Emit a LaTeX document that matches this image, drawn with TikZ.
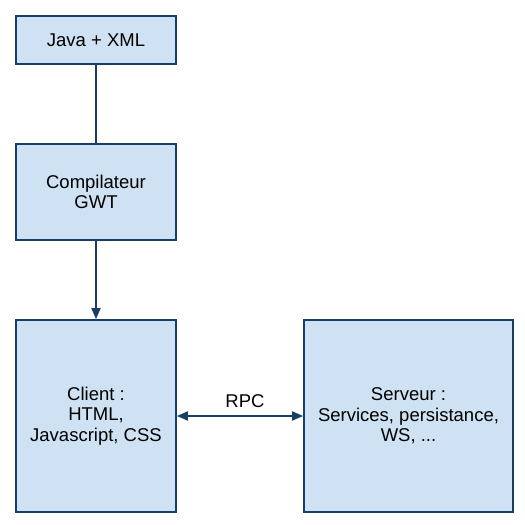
\documentclass[tikz,border=0pt]{standalone}
\usepackage{fontspec}
\setmainfont{Liberation Sans}
\usetikzlibrary{arrows.meta, positioning}
\definecolor{boxfill}{RGB}{207,226,243}
\definecolor{boxline}{RGB}{24,62,102}

\begin{document}
\begin{tikzpicture}[x=1pt, y=-1pt,
        block/.style={draw=boxline, fill=boxfill, line width=1.8pt, align=center,
            inner sep=0pt, font=\fontsize{18.5}{20.5}\selectfont},
        link/.style={draw=boxline, line width=1.8pt},
        tip/.style={-{Triangle[length=11pt, width=9pt]}},
        bothtips/.style={{Triangle[length=11pt, width=9pt]}-{Triangle[length=11pt, width=9pt]}}]
        \useasboundingbox (0,0) rectangle (525,525);
        \node[block, minimum width=160pt, minimum height=48pt] (java) at (96,40) {Java + XML};
        \node[block, minimum width=160pt, minimum height=96pt] (comp) at (96,192) {Compilateur\\GWT};
        \node[block, minimum width=160pt, minimum height=192pt] (client) at (96,416) {Client :\\HTML,\\Javascript, CSS};
        \node[block, minimum width=209pt, minimum height=192pt] (serveur) at (408.5,416) {Serveur :\\ Services, persistance,\\WS, ...};
        % connecteurs
        \draw[link] (java) -- (comp);
        \draw[link, tip] (comp) -- (client);
        \draw[link, bothtips] (client) -- node[above=4pt, xshift=5pt, font=\fontsize{18.5}{20.5}\selectfont] (rpc) {RPC} (serveur);
\end{tikzpicture}
\end{document}
